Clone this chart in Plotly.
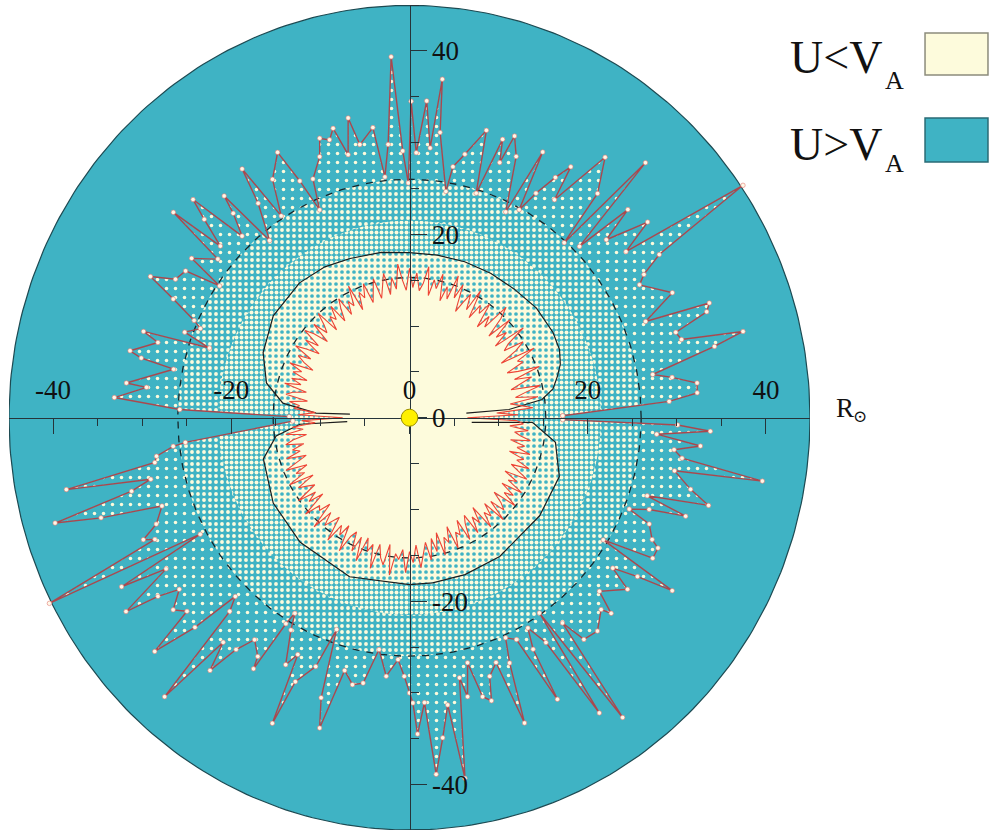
import numpy as np
import plotly.graph_objects as go

# ---------------- data ----------------
# outer Alfven surface (dark red line with white dots): angle (deg), radius (R_sun)
OUTER_THETA = [0.7, 3.5, 4.8, 6.7, 8.5, 9.8, 12.8, 14.1, 15.6, 17.3, 19.1, 20.4, 21.6, 24.8, 29.3, 30.7,
               32.4, 34.1, 36.7, 38.6, 41.3, 42.8, 44.4, 46.4, 47.7, 49.2, 52.3, 55.6, 56.5, 58.0, 59.9,
               61.5, 62.7, 64.3, 67.2, 69.0, 70.0, 71.0, 73.0, 74.6, 77.8, 79.9, 80.6, 83.7, 84.3, 85.5,
               86.8, 88.5, 89.7, 90.3,
               91.5, 93.0, 94.6, 96.0, 97.4, 100.6, 101.9, 103.5, 105.2, 106.5, 108.3, 109.5, 112.6, 114.0,
               115.5, 117.1, 120.6, 123.2, 124.7, 126.0, 129.1, 130.7, 131.6, 133.5, 135.6, 136.8, 138.6,
               139.8, 141.2, 144.6, 146.0, 147.5, 150.1, 152.1, 154.0, 156.3, 157.5, 159.7, 161.3, 162.5,
               163.8, 166.9, 167.8, 168.7, 173.2, 173.6, 176.2, 178.0, 179.5,
               181.6, 186.1, 186.7, 188.4, 189.7, 191.5, 193.0, 194.4, 196.1, 197.5, 199.1, 202.2, 204.0,
               204.9, 206.6, 208.4, 209.7, 211.1, 213.6, 214.6, 215.9, 218.3, 220.2, 221.7, 223.5, 224.9,
               226.3, 227.9, 229.5, 230.9, 232.4, 234.3, 236.8, 237.4, 238.3, 238.9, 240.1, 242.7, 244.1,
               245.2, 246.0, 248.8, 250.5, 252.0, 253.4, 255.2, 257.6, 259.8, 262.3, 264.7, 267.2, 268.8,
               270.0, 270.7, 271.5, 273.1, 274.4, 276.1, 277.8, 279.0, 281.2, 282.1, 283.7, 285.1, 286.6,
               287.7, 290.0, 291.2, 292.8, 294.2, 296.4, 298.4, 298.8, 300.1, 302.0, 303.5, 304.4, 306.2,
               307.5, 309.0, 312.2, 315.8, 316.7, 318.4, 322.6, 324.3, 325.9, 327.4, 328.5, 330.7, 333.0,
               334.0, 336.7, 338.0, 339.6, 340.9, 342.3, 344.1, 346.1, 349.0, 350.1, 351.8, 353.3, 354.6,
               356.3, 357.5, 358.5, 359.3]
OUTER_R = [17.2, 29.2, 32.4, 32.5, 29.8, 27.7, 35.1, 38.6, 31.7, 31.3, 35.3, 35.9, 28.5, 32.5, 29.6, 30.6,
           33.2, 45.2, 30.3, 34.2, 29.4, 33.4, 26.7, 38.4, 25.8, 32.3, 35.9, 28.8, 32.8, 30.9, 28.3,
           25.8, 32.6, 24.9, 30.9, 32.9, 29.6, 32.1, 25.6, 32.5, 29.4, 27.8, 25.0, 31.3, 37.1, 29.5,
           34.6, 28.9, 34.5, 25.6,
           29.1, 39.4, 29.9, 26.4, 31.9, 30.3, 33.4, 29.5, 32.7, 31.6, 32.1, 30.2, 28.2, 24.8,
           28.6, 32.5, 30.2, 26.3, 33.0, 28.9, 24.9, 31.9, 29.8, 27.3, 34.0, 31.6, 28.3,
           34.7, 27.6, 30.0, 25.7, 29.8, 30.3, 32.9, 29.5, 26.4, 25.4, 26.9, 23.7, 31.3,
           29.4, 32.2, 30.8, 27.0, 32.0, 29.7, 33.2, 25.8, 13.5,
           13.1, 25.3, 26.7, 28.7, 29.0, 39.3, 29.8, 32.2, 41.4, 36.3, 29.4, 30.7, 32.7,
           31.5, 45.2, 26.7, 37.2, 31.9, 38.2, 34.3, 31.9, 33.8, 32.7, 38.3, 33.2, 27.6,
           29.2, 41.0, 32.2, 35.5, 31.9, 29.8, 31.1, 32.5, 26.4, 24.9, 26.7, 30.3, 28.7,
           36.7, 31.5, 29.1, 24.5, 32.1, 35.3, 28.5, 29.8, 29.4, 25.5, 28.3, 26.4, 28.2,
           30.0, 31.1, 34.5, 31.1, 39.0, 35.1, 31.6, 39.8, 28.9, 31.1, 27.5, 31.5, 32.2,
           29.6, 28.4, 35.7, 29.0, 26.3, 27.0, 34.9, 28.8, 26.5, 28.9, 38.6, 25.8, 40.5,
           28.2, 31.1, 31.4, 30.0, 31.1, 28.5, 30.8, 28.1, 30.9, 35.0, 25.5, 31.3, 31.3,
           30.3, 29.3, 26.6, 28.7, 32.8, 28.0, 34.9, 32.5, 30.3, 40.2, 30.9, 29.9, 32.8,
           27.8, 33.8, 30.1, 17.2]

# inner Alfven surface (bright red line), one radius every 1.5 deg starting at 0 deg
INNER_STEP = 1.5
INNER_R = [6.5, 12.2, 9.8, 13.9, 12.6, 11.4, 14.6, 12.1, 13.3, 15.1, 11.8, 13.0,
           14.4, 12.5, 15.6, 13.2, 12.0, 14.1, 13.6, 15.9, 11.9, 14.0, 15.2, 12.9,
           13.7, 16.1, 12.4, 14.3, 13.1, 15.5, 12.6, 14.9, 16.2, 13.0, 14.2, 12.5,
           15.3, 13.8, 14.6, 12.8, 16.0, 13.4, 15.1, 13.9, 12.7, 15.7, 14.0, 16.4,
           13.6, 14.9, 13.2, 16.1, 14.4, 15.3, 13.5, 16.6, 14.7, 13.9, 15.8, 14.2,
           16.3, 13.9, 15.0, 16.8, 14.1, 15.4, 13.6, 16.0, 14.5, 13.4, 15.7, 14.3,
           13.2, 15.5, 14.0, 14.8, 12.9, 15.9, 13.7, 14.4, 13.0, 15.2, 14.1, 12.8,
           15.0, 13.5, 14.2, 12.6, 15.3, 13.9, 13.1, 14.8, 12.4, 14.1, 15.1, 12.9,
           14.4, 12.3, 13.7, 15.0, 12.8, 14.2, 13.3, 12.0, 14.7, 13.1, 14.0, 12.2,
           13.9, 12.7, 14.5, 11.9, 13.4, 14.1, 11.6, 13.6, 12.4, 13.0, 10.6, 12.5,
           7.5, 12.1, 10.6, 13.2, 12.0, 14.0, 11.7, 13.3, 14.2, 12.2, 13.6, 12.8,
           14.5, 12.3, 13.4, 15.0, 12.6, 14.1, 13.2, 15.3, 12.5, 14.6, 13.7, 12.9,
           15.4, 13.3, 14.5, 12.8, 15.7, 13.9, 14.3, 13.0, 16.0, 13.6, 15.1, 14.2,
           13.4, 16.2, 14.0, 15.0, 13.6, 16.5, 14.5, 13.8, 15.9, 14.1, 16.7, 13.9,
           15.3, 14.4, 17.0, 14.2, 15.6, 16.3, 14.0, 17.3, 14.9, 15.5, 14.4, 16.9,
           14.6, 15.8, 13.9, 16.4, 14.8, 13.7, 15.7, 13.4, 14.9, 12.9, 15.5, 13.6,
           14.3, 12.6, 15.2, 13.5, 14.0, 12.4, 14.9, 13.1, 12.3, 14.7, 12.9, 13.9,
           12.1, 15.0, 13.3, 14.1, 12.6, 15.3, 12.9, 14.6, 13.8, 12.5, 15.2, 13.4,
           14.4, 12.6, 15.0, 13.0, 13.9, 12.2, 14.8, 13.4, 12.5, 14.5, 12.9, 13.6,
           11.8, 14.1, 12.5, 13.3, 11.6, 13.8, 12.6, 11.9, 13.4, 11.3, 12.8, 12.0]

# solid black curve (two lobes)
UPPER_LOBE_THETA = [4.5, 4.6, 7.6, 11.0, 15.2, 19.0, 23.8, 30, 40, 50, 60, 70, 80, 90, 100, 111,
                    120, 130, 144, 156.6, 166.7, 173.6, 177.3, 176.6]
UPPER_LOBE_R = [6.4, 11.2, 15.0, 16.4, 17.2, 17.9, 18.4, 18.6, 18.6, 18.3, 18.2, 18.1, 18.0, 18.0,
                18.3, 18.6, 19.0, 19.2, 18.9, 17.9, 16.5, 14.3, 10.5, 6.7]
LOWER_LOBE_THETA = [183.4, 183.3, 187.6, 195.3, 211.3, 227.9, 248.8, 270, 278.2, 290, 303.8, 323.8,
                    339.1, 350.7, 357.9, 355.9]
LOWER_LOBE_R = [7.0, 12.3, 15.1, 17.0, 17.9, 18.3, 18.6, 18.2, 18.2, 18.2, 18.2, 18.1, 18.0, 16.6,
                13.8, 7.0]

DASHED_RADII = [15.3, 26.0]
DISK_R = 44.95
SPECKLE_RADII = [26.0, 21.5]
SUN_R = 0.93

TICK_VALS = [-40, -20, 0, 20, 40]
TICK_TEXT = ["-40", "-20", "0", "20", "40"]
LEGEND_LABELS = ["U&lt;V", "U&gt;V"]
LEGEND_SUB = "A"
UNIT_MAIN, UNIT_SUB = "R", "⊙"

# ---------------- styling ----------------
TEAL = '#3fb3c4'
CREAM = '#fdfbdc'
AX = '#26343a'
FONT = 'Liberation Serif'


def polar(theta, r, close=False):
    t = np.deg2rad(np.asarray(theta, dtype=float))
    r = np.asarray(r, dtype=float)
    x, y = r * np.cos(t), r * np.sin(t)
    if close:
        x, y = np.append(x, x[0]), np.append(y, y[0])
    return x, y


circ_t = np.linspace(0, 360, 361)
inner_theta = np.arange(len(INNER_R)) * INNER_STEP

ox, oy = polar(OUTER_THETA, OUTER_R, close=True)
ix, iy = polar(inner_theta, INNER_R, close=True)
ux, uy = polar(UPPER_LOBE_THETA, UPPER_LOBE_R, close=True)
lx, ly = polar(LOWER_LOBE_THETA, LOWER_LOBE_R, close=True)
dkx, dky = polar(circ_t, [DISK_R] * len(circ_t))

fig = go.Figure()
noline = dict(width=0, color='rgba(0,0,0,0)')

# speckled zones
fig.add_trace(go.Scatter(x=ox, y=oy, mode='lines', line=noline, fill='toself', fillcolor=TEAL,
                         fillpattern=dict(shape='.', bgcolor=TEAL, fgcolor=CREAM, size=9, solidity=0.12,
                                          fillmode='replace'), hoverinfo='skip'))
for rad, sz, sol in zip(SPECKLE_RADII, [6, 5], [0.32, 0.5]):
    cx, cy = polar(circ_t, [rad] * len(circ_t))
    fig.add_trace(go.Scatter(x=cx, y=cy, mode='lines', line=noline, fill='toself', fillcolor=TEAL,
                             fillpattern=dict(shape='.', bgcolor=TEAL, fgcolor=CREAM, size=sz, solidity=sol,
                                              fillmode='replace'), hoverinfo='skip'))
for xx, yy in [(ux, uy), (lx, ly)]:
    fig.add_trace(go.Scatter(x=xx, y=yy, mode='lines', line=noline, fill='toself', fillcolor=CREAM,
                             fillpattern=dict(shape='.', bgcolor=CREAM, fgcolor=TEAL, size=6, solidity=0.3,
                                              fillmode='replace'), hoverinfo='skip'))
# inner region U<VA
fig.add_trace(go.Scatter(x=ix, y=iy, mode='lines', line=noline, fill='toself', fillcolor=CREAM,
                         hoverinfo='skip'))
# mask: ring between outer surface and disk edge
fig.add_trace(go.Scatter(x=ox, y=oy, mode='lines', line=noline, hoverinfo='skip'))
fig.add_trace(go.Scatter(x=dkx, y=dky, mode='lines', line=dict(color='#1d4a52', width=1.2),
                         fill='tonext', fillcolor=TEAL, hoverinfo='skip'))
# dashed circles
for rad in DASHED_RADII:
    cx, cy = polar(circ_t, [rad] * len(circ_t))
    fig.add_trace(go.Scatter(x=cx, y=cy, mode='lines', line=dict(color='#15262b', width=1.3, dash='7px,7px'),
                             hoverinfo='skip'))
# solid black lobes
for xx, yy in [(ux, uy), (lx, ly)]:
    fig.add_trace(go.Scatter(x=xx[:-1], y=yy[:-1], mode='lines', line=dict(color='#1c1c1c', width=1.2),
                             hoverinfo='skip'))
# inner red line
fig.add_trace(go.Scatter(x=ix, y=iy, mode='lines', line=dict(color='#ee4536', width=1.1), hoverinfo='skip'))
# outer red line with dots
fig.add_trace(go.Scatter(x=ox, y=oy, mode='lines+markers', line=dict(color='#a9484e', width=1.4),
                         marker=dict(size=4.5, color='#fff8e8', line=dict(width=0.6, color='#e27a72')),
                         hoverinfo='skip'))

tickfont = dict(family=FONT, size=27, color='#111111')
fig.update_layout(
    width=991, height=832,
    margin=dict(l=9, r=181, t=5, b=2),
    paper_bgcolor='white', plot_bgcolor='white', showlegend=False,
    xaxis=dict(range=[-44.95, 44.95], anchor='free', position=0.4997, side='top',
               showline=True, linecolor=AX, linewidth=1.2,
               ticks='inside', ticklen=15, tickwidth=1.2, tickcolor=AX,
               tickmode='array', tickvals=TICK_VALS, ticktext=TICK_TEXT, ticklabelstandoff=8,
               tickfont=tickfont,
               minor=dict(ticks='inside', ticklen=7, tickwidth=1.2, tickcolor=AX, tickmode='linear',
                          tick0=0, dtick=5, showgrid=False),
               showgrid=False, zeroline=False, layer='above traces', fixedrange=True),
    yaxis=dict(range=[-44.95, 45.0], anchor='free', position=0.5, side='right',
               showline=True, linecolor=AX, linewidth=1.2,
               ticks='outside', ticklen=16, tickwidth=1.2, tickcolor=AX,
               tickmode='array', tickvals=TICK_VALS, ticktext=TICK_TEXT,
               tickfont=tickfont,
               minor=dict(ticks='outside', ticklen=8, tickwidth=1.2, tickcolor=AX, tickmode='linear',
                          tick0=0, dtick=5, showgrid=False),
               showgrid=False, zeroline=False, layer='above traces', fixedrange=True),
)

# sun
fig.add_shape(type='circle', xref='x', yref='y', x0=-SUN_R, x1=SUN_R, y0=-SUN_R, y1=SUN_R,
              fillcolor='#fff000', line=dict(color='#9c8f00', width=1), layer='above')

# R_sun label
fig.add_annotation(xref='paper', yref='paper', x=1.03, y=0.5115, xanchor='left', yanchor='middle',
                   text=UNIT_MAIN, showarrow=False, font=dict(family=FONT, size=27, color='#111'))
fig.add_annotation(xref='paper', yref='paper', x=1.0512, y=0.5018, xanchor='left', yanchor='middle',
                   text=UNIT_SUB, showarrow=False, font=dict(family='DejaVu Serif', size=17, color='#111'))

# legend
box_y = [(0.9152, 0.9661), (0.8097, 0.8630)]
box_fill = [CREAM, TEAL]
box_line = ['#8c8c7c', '#2a6b75']
text_y = [0.9358, 0.8315]
sub_y = [0.909, 0.8073]
for lab, (y0, y1), fc, lc, ty, sy in zip(LEGEND_LABELS, box_y, box_fill, box_line, text_y, sub_y):
    fig.add_shape(type='rect', xref='paper', yref='paper', x0=1.1436, x1=1.2222, y0=y0, y1=y1,
                  fillcolor=fc, line=dict(color=lc, width=1.5))
    fig.add_annotation(xref='paper', yref='paper', x=1.0924, y=ty, xanchor='right', yanchor='middle',
                       text=lab, showarrow=False, font=dict(family=FONT, size=46, color='#111'))
    fig.add_annotation(xref='paper', yref='paper', x=1.0912, y=sy, xanchor='left', yanchor='middle',
                       text=LEGEND_SUB, showarrow=False, font=dict(family=FONT, size=26, color='#111'))

fig.write_html("out.html", config={'displayModeBar': False})
